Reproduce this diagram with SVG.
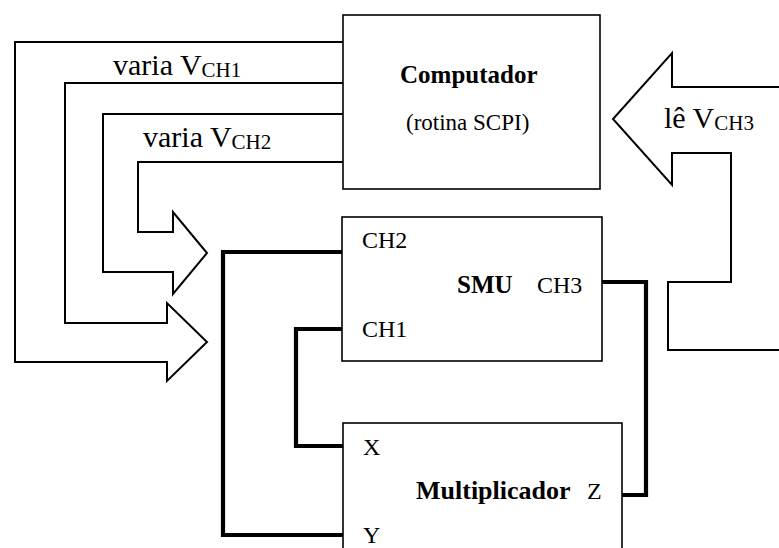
<svg xmlns="http://www.w3.org/2000/svg" width="779" height="548" viewBox="0 0 779 548">
<style>
.box{fill:#fff;stroke:#000;stroke-width:1.6}
.arrow{fill:none;stroke:#000;stroke-width:2;stroke-linejoin:miter}
.wire{fill:none;stroke:#000;stroke-width:4.2;stroke-linejoin:miter}
text{font-family:"Liberation Serif","Times New Roman",serif;fill:#000}
.b{font-weight:bold;font-size:25px}
.lbl{font-size:24px}
.big{font-size:30px}
.sub{font-size:21px}
</style>
<rect width="779" height="548" fill="#fff"/>
<g id="connectors">
<polyline class="arrow" points="343,42 15,42 15,362 167,362 167,381 207,342 167,303 167,323 65,323 65,83 343,83"/>
<polyline class="arrow" points="343,114 103,114 103,272 173,272 173,294 207,253 173,212 173,232 138,232 138,162 343,162"/>
<polyline class="arrow" points="779,87 672,87 672,53 613,119 672,185 672,153 731,153 731,282 668,282 668,350 779,350"/>
<polyline class="wire" points="342,252 223,252 223,535 343,535"/>
<polyline class="wire" points="342,329 296,329 296,446 343,446"/>
<polyline class="wire" points="602,282 646,282 646,495 622,495"/>
<text x="113" y="75" class="big">varia V<tspan class="sub" dy="2">CH1</tspan></text>
<text x="143" y="147" class="big">varia V<tspan class="sub" dy="2">CH2</tspan></text>
<text x="664" y="128" class="big">lê V<tspan class="sub" dy="2">CH3</tspan></text>
</g>
<g id="computador">
<rect class="box" x="343" y="15" width="257" height="174"/>
<text x="400" y="83" class="b" font-size="26">Computador</text>
<text x="406" y="130" font-size="23">(rotina SCPI)</text>
</g>
<g id="smu">
<rect class="box" x="342" y="217" width="260" height="144"/>
<text x="362" y="248" class="lbl">CH2</text>
<text x="362" y="337" class="lbl">CH1</text>
<text x="457" y="293" class="b">SMU</text>
<text x="537" y="293" class="lbl">CH3</text>
</g>
<g id="multiplicador">
<rect class="box" x="343" y="423" width="279" height="150"/>
<text x="363" y="455" class="lbl">X</text>
<text x="416" y="499" class="b" style="font-size:26px">Multiplicador</text>
<text x="587" y="499" class="lbl">Z</text>
<text x="363" y="543" class="lbl">Y</text>
</g>
</svg>
